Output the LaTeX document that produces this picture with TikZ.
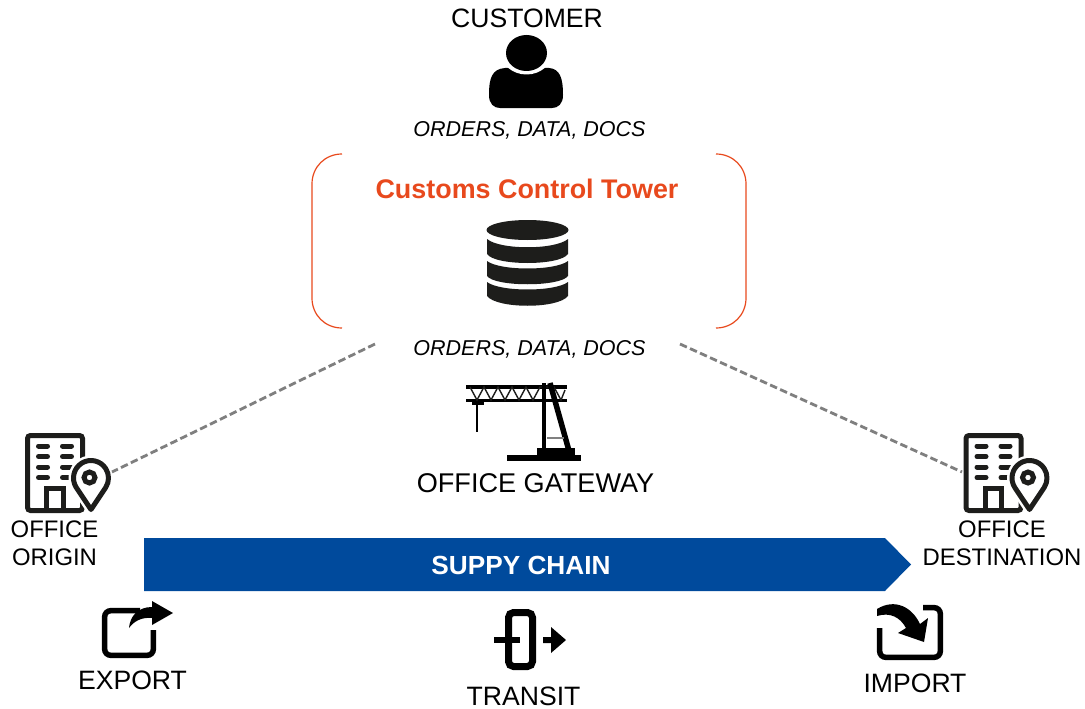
\documentclass[tikz,border=0pt]{standalone}
\usepackage{fontspec}
\setmainfont{Liberation Sans}
\definecolor{towerred}{HTML}{E8491D}
\definecolor{chainblue}{HTML}{004A9C}
\definecolor{dashgrey}{HTML}{7F7F7F}
\definecolor{iconblack}{HTML}{1D1D1B}
\newcommand{\pinpath}{(91,509.5) -- ([shift={(147.4:17.5)}]91,478) arc[start angle=147.4,end angle=392.6,radius=17.5] -- cycle}
\newcommand{\officeicon}[2]{%
\begin{scope}[shift={(#1,#2)}]
  \draw[iconblack,line width=5pt,rounded corners=3pt] (27.5,435.5) rectangle (82.5,510.5);
  \foreach \yy in {446,456.5,467,477.5}{
    \draw[iconblack,line width=5pt,line cap=round] (38.5,\yy) -- (47.5,\yy);
    \draw[iconblack,line width=5pt,line cap=round] (62.5,\yy) -- (71.5,\yy);
  }
  \draw[iconblack,line width=5pt] (46.5,510) -- (46.5,488) -- (63,488) -- (63,510);
  \draw[white,line width=10pt,line join=round] \pinpath;
  \draw[iconblack,fill=white,line width=5pt,line join=round] \pinpath;
  \draw[iconblack,line width=5pt] (89.5,477.5) circle[radius=5.5];
\end{scope}}
\tikzset{
  lab/.style={inner sep=0pt,font=\fontsize{26.6}{28}\selectfont,text=black},
  smalllab/.style={inner sep=0pt,font=\fontsize{23.9}{28}\selectfont,text=black,align=center},
  flow/.style={inner sep=0pt,font=\fontsize{21.5}{26}\selectfont\itshape,text=black},
  bracket/.style={draw=towerred,line width=1.2pt},
  link/.style={draw=dashgrey,line width=2.8pt,dash pattern=on 7.5pt off 3.5pt},
}
\begin{document}
\begin{tikzpicture}[x=1pt,y=-1pt]
\useasboundingbox (0,0) rectangle (1085,709);
% texts
\node[lab] (customer) at (527,18) {CUSTOMER};
\node[flow] (flowtop) at (529.5,130) {ORDERS, DATA, DOCS};
\node[inner sep=0pt,font=\fontsize{26.9}{28}\selectfont\bfseries,text=towerred] (title) at (527,189) {Customs Control Tower};
\node[flow] (flowbot) at (529.5,349.5) {ORDERS, DATA, DOCS};
\node[inner sep=0pt,font=\fontsize{27.1}{28}\selectfont,text=black] (gateway) at (535.5,483) {OFFICE GATEWAY};
\node[smalllab] (origin) at (54.5,543) {OFFICE\\ORIGIN};
\node[smalllab] (destination) at (1002,543) {OFFICE\\DESTINATION};
\node[lab] (export) at (132.5,680) {EXPORT};
\node[lab] (transit) at (523.5,696) {TRANSIT};
\node[lab] (import) at (915,683) {IMPORT};
% customer icon
\fill (489,95) .. controls (489,78) and (492,69) .. (505,68) -- (549,68) .. controls (560,69) and (563,78) .. (563,95) .. controls (563,104) and (558,108) .. (552,108) -- (500,108) .. controls (494,108) and (489,104) .. (489,95) -- cycle;
\fill[white] (526.5,53.5) ellipse[x radius=25,y radius=21];
\fill (526.5,53) ellipse[x radius=20.5,y radius=18];
% brackets
\draw[bracket] (342,154) .. controls (325,154) and (312,167) .. (312,184) -- (312,298) .. controls (312,315) and (325,328) .. (342,328);
\draw[bracket] (716,154) .. controls (733,154) and (746,167) .. (746,184) -- (746,298) .. controls (746,315) and (733,328) .. (716,328);
% database icon
\fill[iconblack] (527.5,230) ellipse[x radius=41,y radius=10];
\fill[iconblack] (487,239) .. controls (500,250) and (555,250) .. (568,239) -- (568,254) .. controls (560,266) and (495,266) .. (487,254) -- cycle;
\fill[iconblack] (487,261) .. controls (500,271) and (555,271) .. (568,261) -- (568,276) .. controls (560,287) and (495,287) .. (487,276) -- cycle;
\fill[iconblack] (487,282) .. controls (500,292) and (555,292) .. (568,282) -- (568,296) .. controls (558,309) and (497,309) .. (487,296) -- cycle;
% crane icon
\fill (466,385) rectangle (567,388.5);
\fill (466,398.5) rectangle (567,402);
\draw[line width=1.4pt,iconblack] (470,387) -- (477,400) -- (484,387) -- (491,400) -- (498,387) -- (505,400) -- (512,387) -- (519,400) -- (526,387) -- (533,400) -- (540,387) -- (554,387) -- (561,400) -- (565,390);
\fill (472,402) rectangle (484,404.5);
\draw[line width=1.4pt] (477,403) -- (477,432);
\draw[line width=4.8pt] (544,383) -- (544,449);
\draw[line width=5.5pt] (550,383) -- (568.5,449);
\draw[line width=1.4pt,gray] (547,438) -- (564,438);
\fill (537,448) rectangle (575,456);
\fill (507,455) rectangle (581,461);
% offices
\officeicon{0}{0}
\officeicon{938.5}{0}
% dashed links
\coordinate (linkLa) at (375,344);
\coordinate (linkLb) at (112,472);
\coordinate (linkRa) at (680,344);
\coordinate (linkRb) at (962,472);
\draw[link] (linkLa) -- (linkLb);
\draw[link] (linkRa) -- (linkRb);
% chain arrow
\fill[chainblue] (144,538) -- (885,538) -- (911,564.5) -- (885,591) -- (144,591) -- cycle;
\node[inner sep=0pt,font=\fontsize{26.2}{28}\selectfont\bfseries,text=white] (chain) at (521,565) {SUPPY CHAIN};
% export icon
\draw[line width=5.5pt,rounded corners=6pt] (140,610.7) -- (104.7,610.7) -- (104.7,655.3) -- (153.3,655.3) -- (153.3,630);
\fill (173,613) -- (152,601) -- (152,607) .. controls (138,607) and (130,616) .. (129,628) .. controls (134,621) and (142,617) .. (152,618) -- (152,625) -- cycle;
% transit icon
\draw[line width=7pt,rounded corners=5pt] (508.5,612.5) rectangle (532.5,666.5);
\draw[line width=6pt] (494,639.5) -- (520,639.5);
\fill (543,637) -- (551,637) -- (551,627) -- (566,640) -- (551,653) -- (551,643) -- (543,643) -- cycle;
% import icon
\draw[line width=5.5pt,rounded corners=6pt] (923,607.7) -- (940.3,607.7) -- (940.3,657.3) -- (879.7,657.3) -- (879.7,628);
\fill (877,609) .. controls (895,598) and (912,607) .. (920,624) -- (928,618) -- (924,642) -- (898,633) -- (906,628) .. controls (900,617) and (890,612) .. (877,616) -- cycle;
\end{tikzpicture}
\end{document}
